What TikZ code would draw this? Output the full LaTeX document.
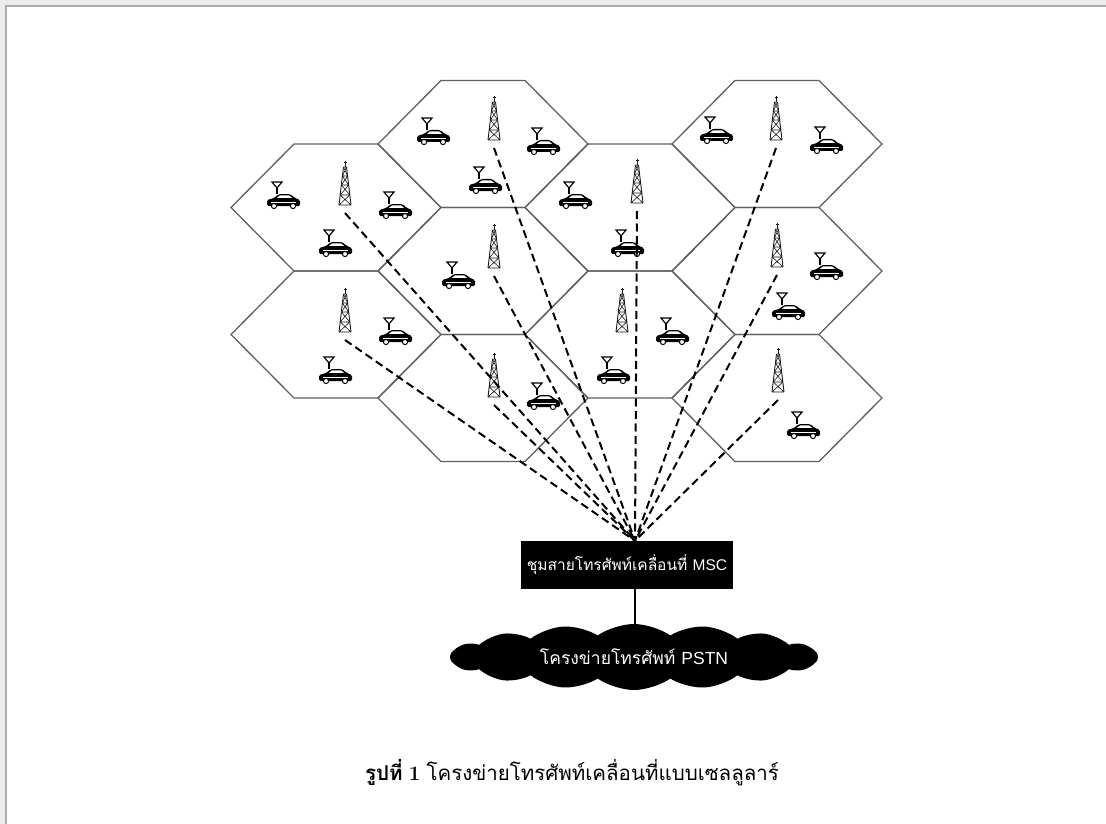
\documentclass[tikz,border=0pt]{standalone}
\usepackage{fontspec}
\usepackage{xcolor}
\usepackage{tikz}
\usetikzlibrary{shapes.symbols}
\newfontfamily\thaifont[Script=Thai]{Loma}
\newfontfamily\latinsans{Liberation Sans}

\definecolor{pageback}{HTML}{EBEBEC}
\definecolor{framegray}{HTML}{ABABAD}
\definecolor{cellgray}{HTML}{606060}

\tikzset{
  cellwall/.style={cellgray, line width=1.3},
  radiolink/.style={black, line width=2, dash pattern=on 8 off 4.5},
  mscbox/.style={fill=black, text=white, minimum width=212, minimum height=48, inner sep=0,
    font=\fontsize{15.5}{18}\selectfont},
  pstncloud/.style={cloud, cloud puffs=16, cloud puff arc=70, aspect=6, fill=black, text=white,
    minimum width=368, minimum height=66, inner sep=0, font=\fontsize{17.5}{20}\selectfont},
  % lattice mast, origin at the foot
  tower/.pic={
    \draw[black!90, line width=0.9] (-6,0) -- (-1.5,-38) (6,0) -- (1.5,-38);
    \draw[black!90, line width=0.6] (-6,0) -- (6,0) (-4.8,-10) -- (4.8,-10) (-3.6,-20) -- (3.6,-20)
      (-2.6,-29) -- (2.6,-29) (-1.5,-38) -- (1.5,-38)
      (-6,0) -- (4.8,-10) (6,0) -- (-4.8,-10) (-4.8,-10) -- (3.6,-20) (4.8,-10) -- (-3.6,-20)
      (-3.6,-20) -- (2.6,-29) (3.6,-20) -- (-2.6,-29) (-2.6,-29) -- (1.5,-38) (2.6,-29) -- (-1.5,-38);
    \draw[black!90, line width=0.9] (0,-38) -- (0,-44) (-1.5,-43) -- (1.5,-43);
    \coordinate (-foot) at (0,8);
  },
  % car with its antenna, origin at the bottom centre
  car/.pic={
    \fill[black, rounded corners=1.5] (-16,-1) -- (-16,-7) -- (-9,-9) -- (-4,-13) -- (7,-13)
      -- (12,-9) -- (17,-7) -- (17,-1) -- cycle;
    \fill[white] (-3,-11.6) -- (6,-11.6) -- (9,-9.2) -- (-6,-9.2) -- cycle;
    \draw[white, line width=0.6] (-12,-5) -- (13,-5);
    \filldraw[fill=white, draw=black, line width=1] (-9,-1) circle (2.6) (10,-1) circle (2.6);
    \draw[line width=1.2] (-6,-13) -- (-6,-19);
    \draw[line width=1.2] (-11,-25) -- (-1,-25) -- (-6,-19) -- cycle;
  }
}

\begin{document}
\begin{tikzpicture}[x=1pt, y=-1pt]
\useasboundingbox (0,0) rectangle (1106,824);
\fill[pageback] (0,0) rectangle (1106,824);
\fill[white] (7,7) rectangle (1106,824);
\draw[framegray, line width=2.5] (6,824) -- (6,6) -- (1106,6);

% cells
\foreach \x/\y in {336/207.5, 336/334.5, 483/144, 483/271, 483/398,
                   630/207.5, 630/334.5, 777/144, 777/271, 777/398}
  \draw[cellwall] (\x,\y) ++(-105,0) -- ++(63,-63.5) -- ++(84,0) -- ++(63,63.5)
    -- ++(-63,63.5) -- ++(-84,0) -- cycle;

% base stations
\pic (t1) at (345,205) {tower};
\pic (t2) at (494,140) {tower};
\pic (t3) at (637,203) {tower};
\pic (t4) at (776,140) {tower};
\pic (t5) at (494,268) {tower};
\pic (t6) at (622,332) {tower};
\pic (t7) at (777,267) {tower};
\pic (t8) at (778,392) {tower};
\pic (t9) at (345,332) {tower};
\pic (t10) at (494,397) {tower};

% mobiles
\foreach \x/\y in {283/207, 395/217, 335/255, 433/143, 543/153, 485/192, 575/207, 627/255,
                   716/142, 826/152, 458/287, 672/343, 613/382, 826/278, 788/318, 803/437,
                   395/343, 335/382, 543/408}
  \pic at (\x,\y) {car};

\node[mscbox] (msc) at (627,565) {\thaifont ชุมสายโทรศัพท์เคลื่อนที่ \latinsans MSC};
\coordinate (hub) at ([xshift=8pt]msc.north);
\node[pstncloud] (pstn) at (634,657) {\thaifont โครงข่ายโทรศัพท์ \latinsans PSTN};

\foreach \t in {t1,t2,t3,t4,t5,t7,t8,t9,t10}
  \draw[radiolink] (\t-foot) -- (hub);
\draw[line width=1.2] (hub |- msc.south) -- (hub |- pstn.north);

\node[font=\fontsize{20.5}{24}\selectfont] (caption) at (572,773)
  {{\thaifont\bfseries รูปที่} \textbf{1} {\thaifont โครงข่ายโทรศัพท์เคลื่อนที่แบบเซลลูลาร์}};
\end{tikzpicture}
\end{document}
